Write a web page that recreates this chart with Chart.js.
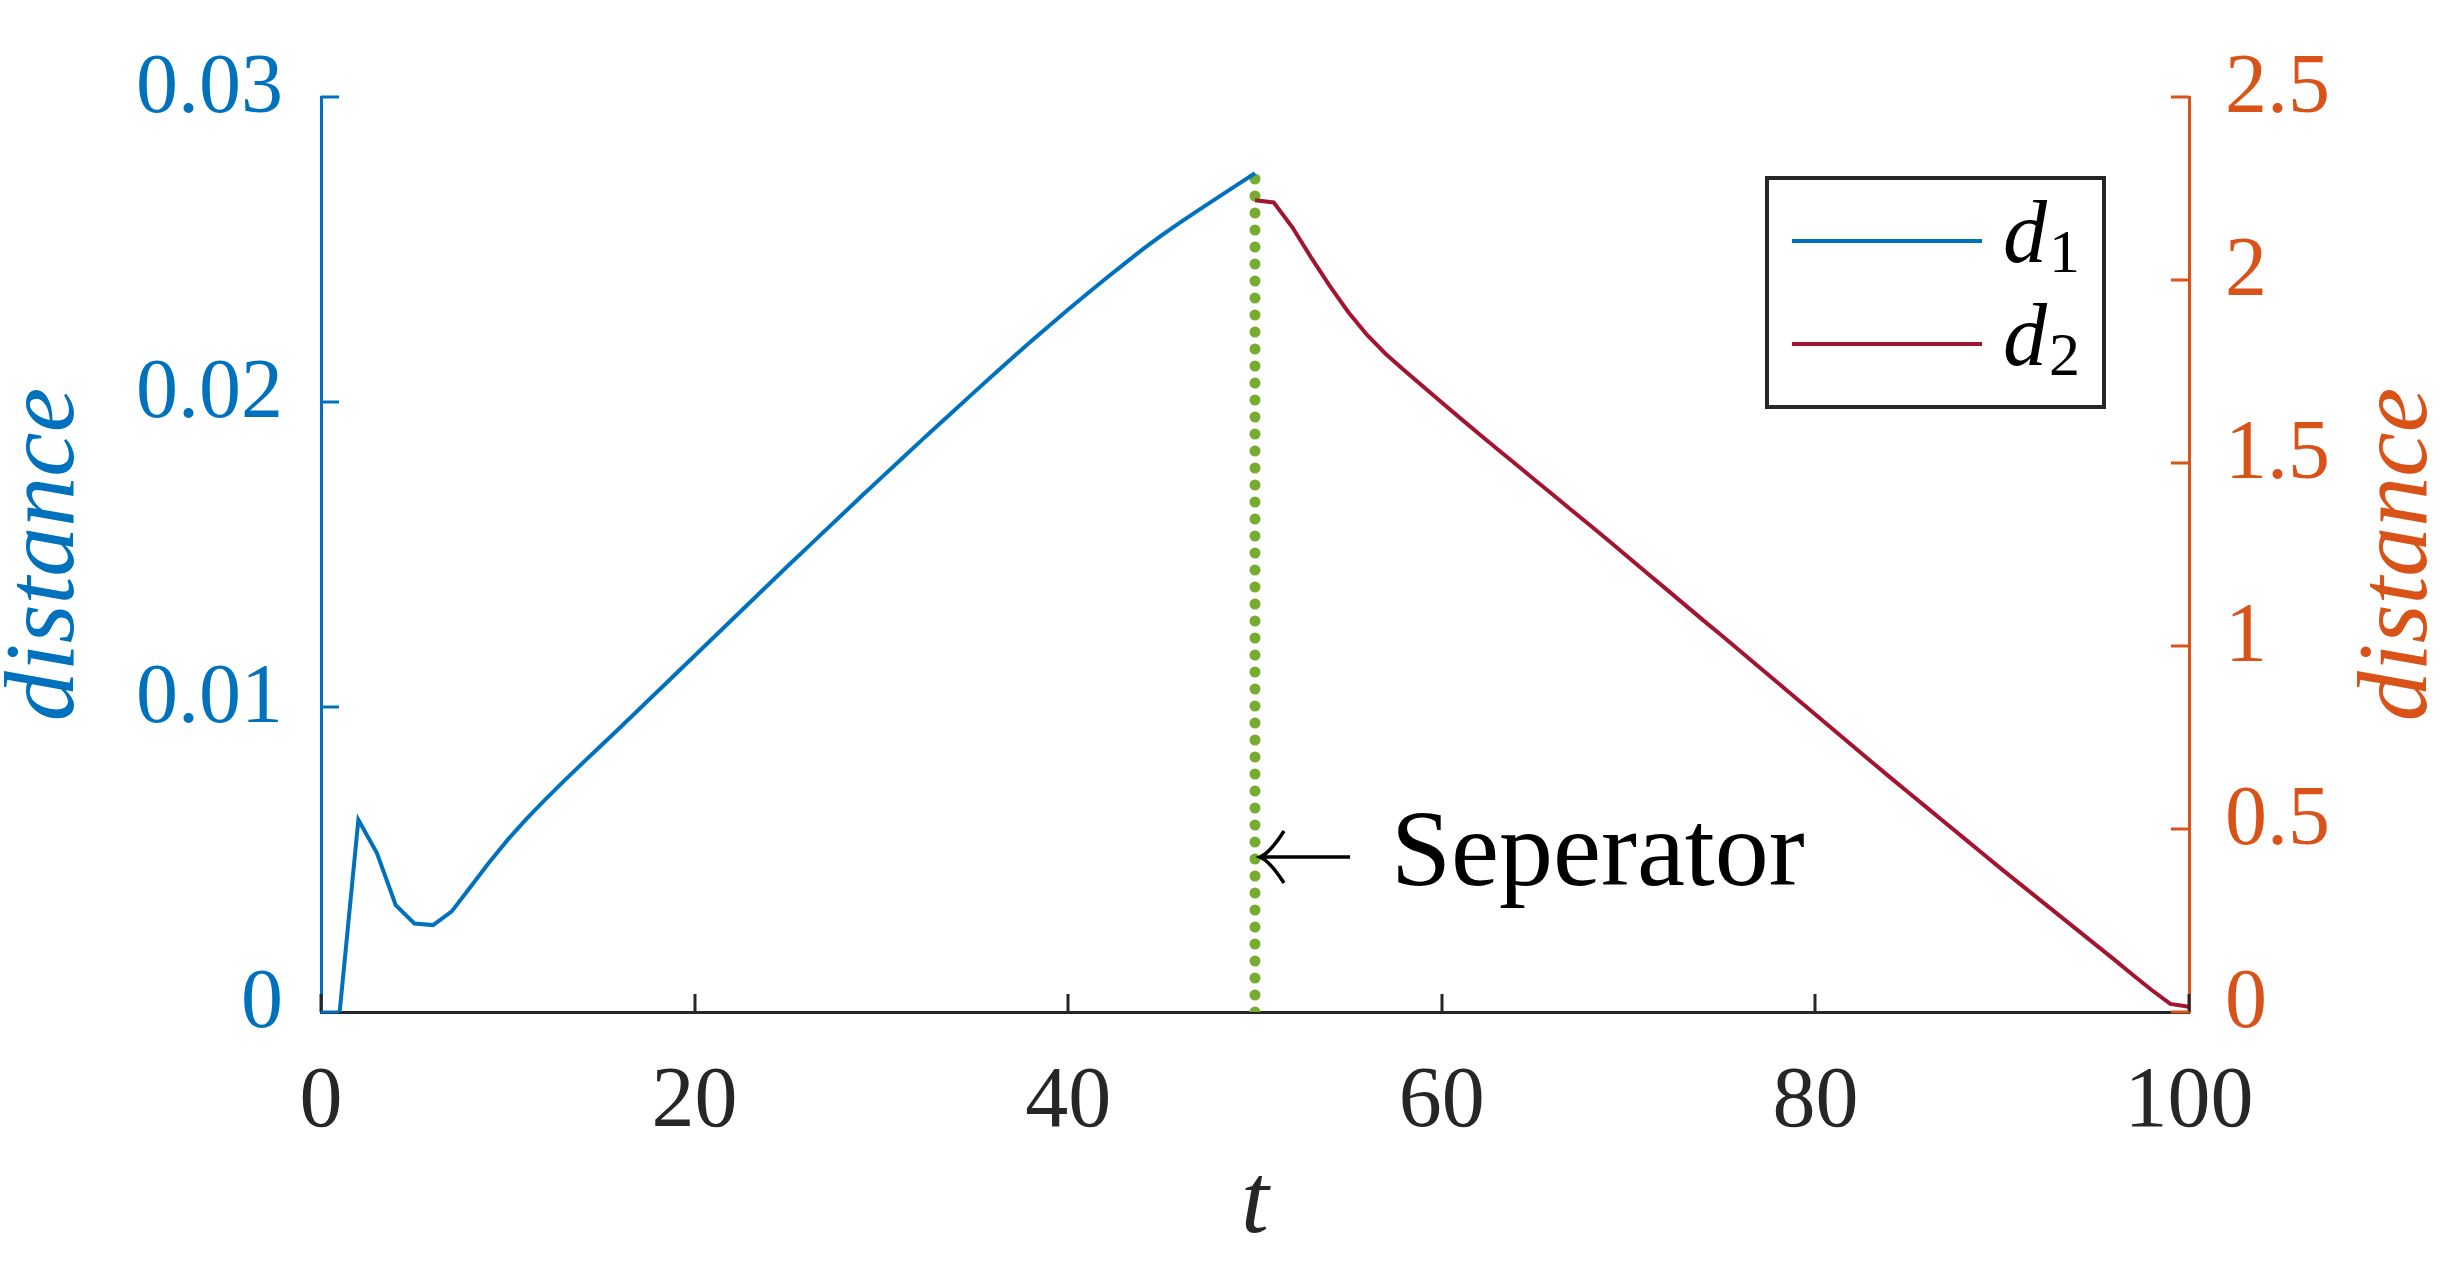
<!DOCTYPE html>
<html>
<head>
<meta charset="utf-8">
<script src="https://cdn.jsdelivr.net/npm/chart.js@4.4.1/dist/chart.umd.min.js"></script>
<style>
  html, body { margin: 0; padding: 0; background: #fff; }
  #wrap { width: 2463px; height: 1263px; position: relative; }
</style>
</head>
<body>
<div id="wrap"><canvas id="myChart"></canvas></div>
<script>
// t values and d1 (left axis)
const t1 = [1, 2, 3, 4, 5, 6, 7, 8, 9, 10,
            11, 12, 13, 14, 15, 16, 17, 18, 19, 20,
            21, 22, 23, 24, 25, 26, 27, 28, 29, 30,
            31, 32, 33, 34, 35, 36, 37, 38, 39, 40,
            41, 42, 43, 44, 45, 46, 47, 48, 49, 50];
const d1 = [0, 0.0063, 0.0052, 0.0035, 0.0029, 0.00285, 0.0033, 0.0041, 0.0049, 0.00565,
            0.00633, 0.00696, 0.00757, 0.00816, 0.00874, 0.00932, 0.00991, 0.0105, 0.01109, 0.01168,
            0.01227, 0.01286, 0.01345, 0.01404, 0.01463, 0.01521, 0.01579, 0.01637, 0.01695, 0.01752,
            0.01809, 0.01866, 0.01922, 0.01978, 0.02034, 0.02089, 0.02144, 0.02198, 0.02251, 0.02303,
            0.02354, 0.02404, 0.02453, 0.02501, 0.02546, 0.02589, 0.0263, 0.0267, 0.0271, 0.0275];

// t values and d2 (right axis)
const t2 = [50, 51, 52, 53, 54, 55, 56, 57, 58, 59, 60,
            61, 62, 63, 64, 65, 66, 67, 68, 69, 70,
            71, 72, 73, 74, 75, 76, 77, 78, 79, 80,
            81, 82, 83, 84, 85, 86, 87, 88, 89, 90,
            91, 92, 93, 94, 95, 96, 97, 98, 99, 100];
const d2 = [2.218, 2.212, 2.144, 2.062, 1.984, 1.912, 1.850, 1.798, 1.753, 1.709, 1.665,
            1.622, 1.579, 1.537, 1.495, 1.453, 1.411, 1.369, 1.327, 1.285, 1.242,
            1.199, 1.156, 1.113, 1.070, 1.028, 0.985, 0.942, 0.899, 0.856, 0.813,
            0.770, 0.727, 0.684, 0.641, 0.599, 0.557, 0.515, 0.473, 0.431, 0.389,
            0.348, 0.307, 0.266, 0.225, 0.184, 0.143, 0.101, 0.060, 0.022, 0.014];

// separator line (left axis units)
const sepT = [50, 50];
const sepY = [0, 0.0277];

const xTicks = [0, 20, 40, 60, 80, 100];
const yTicks = [0, 0.01, 0.02, 0.03];
const y1Ticks = [0, 0.5, 1, 1.5, 2, 2.5];
const seriesNames = ["d", "d"];
const seriesSubs = ["1", "2"];
const sepLabel = "Seperator";

const BLUE = "#0072BD";
const RED = "#A2142F";
const ORANGE = "#D95319";
const GREEN = "#77AC30";
const DARK = "#262626";
const SERIF = "'Liberation Serif', 'Times New Roman', Times, 'DejaVu Serif', serif";

Chart.defaults.font.family = SERIF;

function pts(xs, ys) {
    return xs.map((x, i) => ({ x: x, y: ys[i] }));
}

// tick marks inward, legend, annotation, right title
const extras = {
    id: "extras",
    afterDraw(chart) {
        const ctx = chart.ctx;
        const ca = chart.chartArea;
        const sx = chart.scales.x, sy = chart.scales.y, sy1 = chart.scales.y1;
        const tl = 18;

        ctx.save();
        ctx.lineWidth = 3;
        ctx.strokeStyle = DARK;
        xTicks.forEach(v => {
            const px = Math.round(sx.getPixelForValue(v));
            ctx.beginPath();
            ctx.moveTo(px, ca.bottom);
            ctx.lineTo(px, ca.bottom - tl);
            ctx.stroke();
        });
        ctx.strokeStyle = BLUE;
        yTicks.forEach(v => {
            const py = Math.round(sy.getPixelForValue(v));
            ctx.beginPath();
            ctx.moveTo(ca.left, py);
            ctx.lineTo(ca.left + tl, py);
            ctx.stroke();
        });
        ctx.strokeStyle = ORANGE;
        y1Ticks.forEach(v => {
            const py = Math.round(sy1.getPixelForValue(v));
            ctx.beginPath();
            ctx.moveTo(ca.right, py);
            ctx.lineTo(ca.right - tl, py);
            ctx.stroke();
        });

        // right axis title
        ctx.fillStyle = ORANGE;
        ctx.font = "italic 100px " + SERIF;
        ctx.textAlign = "center";
        ctx.textBaseline = "middle";
        ctx.translate(ca.right + 211, (ca.top + ca.bottom) / 2);
        ctx.rotate(-Math.PI / 2);
        ctx.fillText("distance", 0, 0);
        ctx.restore();

        // separator annotation
        ctx.save();
        const ax = sx.getPixelForValue(50) + 5;
        const ay = sy.getPixelForValue(0.00508);
        ctx.strokeStyle = "#000";
        ctx.lineWidth = 3.5;
        ctx.beginPath();
        ctx.moveTo(ax, ay);
        ctx.lineTo(ax + 90, ay);
        ctx.stroke();
        ctx.beginPath();
        ctx.moveTo(ax + 24, ay - 26);
        ctx.quadraticCurveTo(ax + 10, ay - 4, ax, ay);
        ctx.quadraticCurveTo(ax + 10, ay + 4, ax + 24, ay + 26);
        ctx.stroke();
        ctx.fillStyle = "#000";
        ctx.font = "108px " + SERIF;
        ctx.textAlign = "left";
        ctx.textBaseline = "alphabetic";
        ctx.fillText(sepLabel, ax + 131, ay + 28);
        ctx.restore();

        // legend
        ctx.save();
        const lx = ca.right - 422, ly = ca.top + 81, lw = 337, lh = 229;
        ctx.fillStyle = "#fff";
        ctx.fillRect(lx, ly, lw, lh);
        ctx.strokeStyle = DARK;
        ctx.lineWidth = 4;
        ctx.strokeRect(lx, ly, lw, lh);
        const colors = [BLUE, RED];
        for (let i = 0; i < 2; i++) {
            const yy = ly + 63 + i * 103;
            ctx.strokeStyle = colors[i];
            ctx.lineWidth = 4;
            ctx.beginPath();
            ctx.moveTo(lx + 25, yy);
            ctx.lineTo(lx + 215, yy);
            ctx.stroke();
            ctx.fillStyle = "#000";
            ctx.textAlign = "left";
            ctx.textBaseline = "alphabetic";
            ctx.font = "italic 88px " + SERIF;
            ctx.fillText(seriesNames[i], lx + 236, yy + 21);
            const w = ctx.measureText(seriesNames[i]).width;
            ctx.font = "62px " + SERIF;
            ctx.fillText(seriesSubs[i], lx + 238 + w, yy + 31);
        }
        ctx.restore();
    }
};

new Chart(document.getElementById("myChart"), {
    type: "line",
    data: {
        datasets: [
            {
                label: "d1",
                data: pts(t1, d1),
                yAxisID: "y",
                borderColor: BLUE,
                borderWidth: 4,
                pointRadius: 0,
                tension: 0
            },
            {
                label: "d2",
                data: pts(t2, d2),
                yAxisID: "y1",
                borderColor: RED,
                borderWidth: 4,
                pointRadius: 0,
                tension: 0
            },
            {
                label: "separator",
                data: pts(sepT, sepY),
                yAxisID: "y",
                borderColor: GREEN,
                borderWidth: 11,
                borderCapStyle: "round",
                borderDash: [0, 17],
                pointRadius: 0
            }
        ]
    },
    options: {
        responsive: true,
        maintainAspectRatio: false,
        animation: false,
        layout: { padding: { top: 97, left: 0, right: 0, bottom: 0 } },
        plugins: {
            legend: { display: false },
            tooltip: { enabled: false }
        },
        scales: {
            x: {
                type: "linear",
                min: 0,
                max: 100,
                afterFit: s => { s.height = 251; },
                afterBuildTicks: s => { s.ticks = xTicks.map(v => ({ value: v })); },
                grid: { drawOnChartArea: false, drawTicks: false },
                border: { display: true, color: DARK, width: 3 },
                ticks: {
                    color: DARK,
                    font: { size: 86 },
                    padding: 40,
                    maxRotation: 0,
                    callback: v => String(v)
                },
                title: {
                    display: true,
                    text: "t",
                    color: DARK,
                    font: { size: 100, style: "italic", lineHeight: 1.14 },
                    padding: 0
                }
            },
            y: {
                position: "left",
                min: 0,
                max: 0.03,
                afterFit: s => { s.width = 321; },
                afterBuildTicks: s => { s.ticks = yTicks.map(v => ({ value: v })); },
                grid: { drawOnChartArea: false, drawTicks: false },
                border: { display: true, color: BLUE, width: 3 },
                ticks: {
                    color: BLUE,
                    font: { size: 84 },
                    padding: 38,
                    labelOffset: -7,
                    callback: v => (v === 0 ? "0" : v.toFixed(2))
                },
                title: {
                    display: true,
                    text: "distance",
                    color: BLUE,
                    font: { size: 100, style: "italic", lineHeight: 0.94 },
                    padding: 0
                }
            },
            y1: {
                position: "right",
                min: 0,
                max: 2.5,
                afterFit: s => { s.width = 274; },
                afterBuildTicks: s => { s.ticks = y1Ticks.map(v => ({ value: v })); },
                grid: { drawOnChartArea: false, drawTicks: false },
                border: { display: true, color: ORANGE, width: 3 },
                ticks: {
                    color: ORANGE,
                    font: { size: 84 },
                    padding: 36,
                    labelOffset: -7,
                    callback: v => String(v)
                },
                title: { display: false }
            }
        }
    },
    plugins: [extras]
});
</script>
</body>
</html>
